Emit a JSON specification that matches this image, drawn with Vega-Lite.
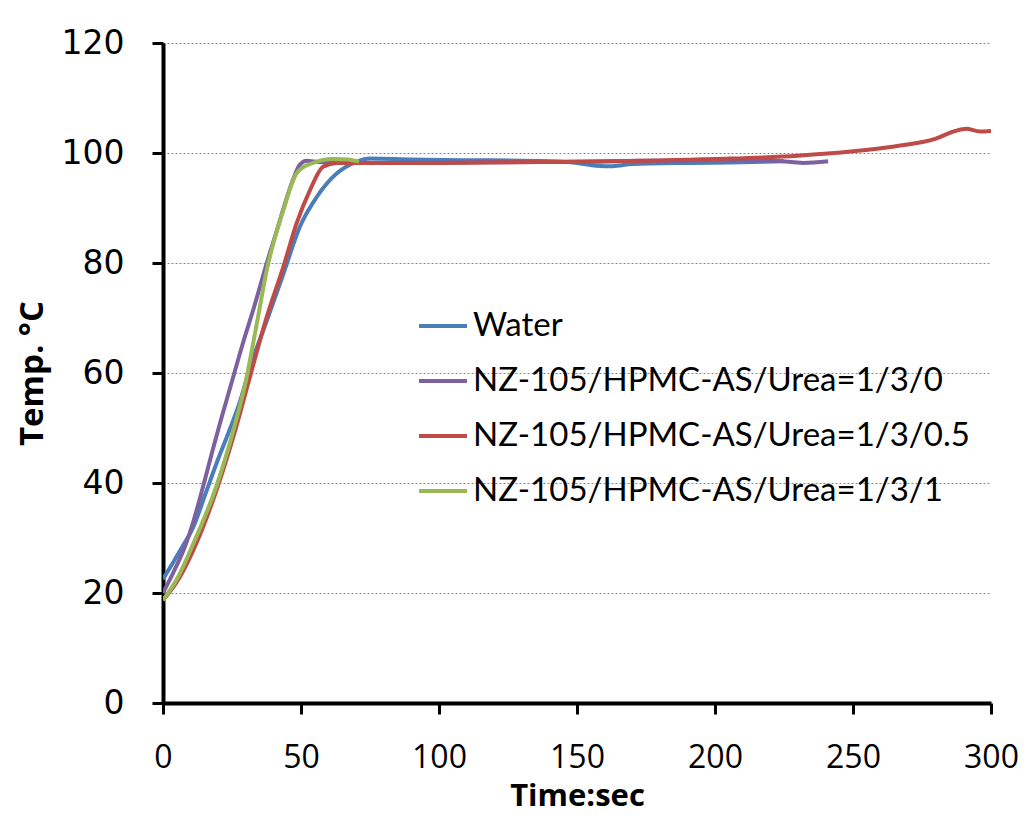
{
  "$schema": "https://vega.github.io/schema/vega-lite/v6.json",
  "autosize": "none",
  "width": 828,
  "height": 660,
  "padding": {"left": 163, "top": 43, "right": 37, "bottom": 115},
  "background": "white",
  "data": {"values": [
    {"s": "Water", "t": 0, "T": 22.5}, {"s": "Water", "t": 3, "T": 25}, {"s": "Water", "t": 7, "T": 28.4}, {"s": "Water", "t": 11, "T": 32}, {"s": "Water", "t": 15, "T": 37.5}, {"s": "Water", "t": 19.4, "T": 43.6}, {"s": "Water", "t": 24, "T": 49.5}, {"s": "Water", "t": 28, "T": 55}, {"s": "Water", "t": 31.5, "T": 61}, {"s": "Water", "t": 37.6, "T": 69.5}, {"s": "Water", "t": 43.6, "T": 78}, {"s": "Water", "t": 49.6, "T": 86.6}, {"s": "Water", "t": 55.7, "T": 92}, {"s": "Water", "t": 63, "T": 96.3}, {"s": "Water", "t": 70, "T": 98.4}, {"s": "Water", "t": 75, "T": 99}, {"s": "Water", "t": 90, "T": 98.8}, {"s": "Water", "t": 110, "T": 98.7}, {"s": "Water", "t": 140, "T": 98.5}, {"s": "Water", "t": 150, "T": 98.2}, {"s": "Water", "t": 157, "T": 97.7}, {"s": "Water", "t": 163, "T": 97.6}, {"s": "Water", "t": 170, "T": 98}, {"s": "Water", "t": 190, "T": 98.2}, {"s": "Water", "t": 210, "T": 98.3}, {"s": "Water", "t": 225, "T": 98.5},
    {"s": "NZ-105/HPMC-AS/Urea=1/3/0", "t": 0, "T": 20}, {"s": "NZ-105/HPMC-AS/Urea=1/3/0", "t": 4, "T": 24}, {"s": "NZ-105/HPMC-AS/Urea=1/3/0", "t": 8, "T": 28.5}, {"s": "NZ-105/HPMC-AS/Urea=1/3/0", "t": 11, "T": 33}, {"s": "NZ-105/HPMC-AS/Urea=1/3/0", "t": 14.6, "T": 39.5}, {"s": "NZ-105/HPMC-AS/Urea=1/3/0", "t": 18, "T": 46}, {"s": "NZ-105/HPMC-AS/Urea=1/3/0", "t": 21, "T": 51.5}, {"s": "NZ-105/HPMC-AS/Urea=1/3/0", "t": 25, "T": 58.5}, {"s": "NZ-105/HPMC-AS/Urea=1/3/0", "t": 29, "T": 65.5}, {"s": "NZ-105/HPMC-AS/Urea=1/3/0", "t": 33, "T": 72}, {"s": "NZ-105/HPMC-AS/Urea=1/3/0", "t": 37.6, "T": 80}, {"s": "NZ-105/HPMC-AS/Urea=1/3/0", "t": 41, "T": 85.5}, {"s": "NZ-105/HPMC-AS/Urea=1/3/0", "t": 44, "T": 90.5}, {"s": "NZ-105/HPMC-AS/Urea=1/3/0", "t": 47, "T": 95}, {"s": "NZ-105/HPMC-AS/Urea=1/3/0", "t": 49.5, "T": 97.8}, {"s": "NZ-105/HPMC-AS/Urea=1/3/0", "t": 52, "T": 98.6}, {"s": "NZ-105/HPMC-AS/Urea=1/3/0", "t": 57, "T": 98.3}, {"s": "NZ-105/HPMC-AS/Urea=1/3/0", "t": 80, "T": 98.2}, {"s": "NZ-105/HPMC-AS/Urea=1/3/0", "t": 120, "T": 98.3}, {"s": "NZ-105/HPMC-AS/Urea=1/3/0", "t": 160, "T": 98.5}, {"s": "NZ-105/HPMC-AS/Urea=1/3/0", "t": 200, "T": 98.7}, {"s": "NZ-105/HPMC-AS/Urea=1/3/0", "t": 222, "T": 98.6}, {"s": "NZ-105/HPMC-AS/Urea=1/3/0", "t": 232, "T": 98.2}, {"s": "NZ-105/HPMC-AS/Urea=1/3/0", "t": 241, "T": 98.5},
    {"s": "NZ-105/HPMC-AS/Urea=1/3/0.5", "t": 0, "T": 18.7}, {"s": "NZ-105/HPMC-AS/Urea=1/3/0.5", "t": 5, "T": 22}, {"s": "NZ-105/HPMC-AS/Urea=1/3/0.5", "t": 11, "T": 27.8}, {"s": "NZ-105/HPMC-AS/Urea=1/3/0.5", "t": 19.4, "T": 38.7}, {"s": "NZ-105/HPMC-AS/Urea=1/3/0.5", "t": 25.5, "T": 48.4}, {"s": "NZ-105/HPMC-AS/Urea=1/3/0.5", "t": 31.5, "T": 59.3}, {"s": "NZ-105/HPMC-AS/Urea=1/3/0.5", "t": 37.6, "T": 70.2}, {"s": "NZ-105/HPMC-AS/Urea=1/3/0.5", "t": 43.6, "T": 79.3}, {"s": "NZ-105/HPMC-AS/Urea=1/3/0.5", "t": 48.4, "T": 87.2}, {"s": "NZ-105/HPMC-AS/Urea=1/3/0.5", "t": 53.3, "T": 93.3}, {"s": "NZ-105/HPMC-AS/Urea=1/3/0.5", "t": 58, "T": 97.5}, {"s": "NZ-105/HPMC-AS/Urea=1/3/0.5", "t": 63, "T": 98.2}, {"s": "NZ-105/HPMC-AS/Urea=1/3/0.5", "t": 100, "T": 98.2}, {"s": "NZ-105/HPMC-AS/Urea=1/3/0.5", "t": 150, "T": 98.4}, {"s": "NZ-105/HPMC-AS/Urea=1/3/0.5", "t": 200, "T": 98.9}, {"s": "NZ-105/HPMC-AS/Urea=1/3/0.5", "t": 230, "T": 99.5}, {"s": "NZ-105/HPMC-AS/Urea=1/3/0.5", "t": 250, "T": 100.3}, {"s": "NZ-105/HPMC-AS/Urea=1/3/0.5", "t": 265, "T": 101.2}, {"s": "NZ-105/HPMC-AS/Urea=1/3/0.5", "t": 280, "T": 102.6}, {"s": "NZ-105/HPMC-AS/Urea=1/3/0.5", "t": 287, "T": 104}, {"s": "NZ-105/HPMC-AS/Urea=1/3/0.5", "t": 291, "T": 104.4}, {"s": "NZ-105/HPMC-AS/Urea=1/3/0.5", "t": 296, "T": 103.9}, {"s": "NZ-105/HPMC-AS/Urea=1/3/0.5", "t": 300, "T": 104},
    {"s": "NZ-105/HPMC-AS/Urea=1/3/1", "t": 0, "T": 18.7}, {"s": "NZ-105/HPMC-AS/Urea=1/3/1", "t": 5, "T": 22.5}, {"s": "NZ-105/HPMC-AS/Urea=1/3/1", "t": 11, "T": 29}, {"s": "NZ-105/HPMC-AS/Urea=1/3/1", "t": 19.4, "T": 39.5}, {"s": "NZ-105/HPMC-AS/Urea=1/3/1", "t": 25.5, "T": 49.6}, {"s": "NZ-105/HPMC-AS/Urea=1/3/1", "t": 30, "T": 58.5}, {"s": "NZ-105/HPMC-AS/Urea=1/3/1", "t": 34, "T": 69}, {"s": "NZ-105/HPMC-AS/Urea=1/3/1", "t": 37.6, "T": 78.7}, {"s": "NZ-105/HPMC-AS/Urea=1/3/1", "t": 43.6, "T": 89.6}, {"s": "NZ-105/HPMC-AS/Urea=1/3/1", "t": 48.4, "T": 96.3}, {"s": "NZ-105/HPMC-AS/Urea=1/3/1", "t": 53.3, "T": 98}, {"s": "NZ-105/HPMC-AS/Urea=1/3/1", "t": 61.7, "T": 98.9}, {"s": "NZ-105/HPMC-AS/Urea=1/3/1", "t": 67, "T": 98.8}, {"s": "NZ-105/HPMC-AS/Urea=1/3/1", "t": 71, "T": 98.4}
  ]},
  "mark": {"type": "line", "strokeWidth": 4, "interpolate": "monotone", "clip": true},
  "encoding": {
    "x": {"field": "t", "type": "quantitative",
      "scale": {"domain": [0, 300], "nice": false},
      "axis": {"title": "Time:sec", "values": [0, 50, 100, 150, 200, 250, 300], "grid": false, "labelFlush": false, "labelOverlap": false,
        "domainColor": "black", "domainWidth": 4, "tickColor": "black", "tickWidth": 3, "tickSize": 11,
        "labelFont": "Open Sans", "labelFontSize": 32, "labelColor": "black", "labelPadding": 28,
        "titleFont": "Open Sans", "titleFontSize": 31, "titleFontWeight": "bold", "titleColor": "black", "titlePadding": 8}},
    "y": {"field": "T", "type": "quantitative",
      "scale": {"domain": [0, 120], "nice": false},
      "axis": {"title": "Temp. °C", "values": [0, 20, 40, 60, 80, 100, 120], "grid": true,
        "gridColor": "#888888", "gridDash": [2, 2], "gridWidth": 1,
        "domainColor": "black", "domainWidth": 4, "tickColor": "black", "tickWidth": 3, "tickSize": 11,
        "labelFont": "DejaVu Sans", "labelFontSize": 33, "labelColor": "black", "labelPadding": 28,
        "titleFont": "Open Sans", "titleFontSize": 33, "titleFontWeight": "bold", "titleColor": "black", "titlePadding": 12}},
    "color": {"field": "s", "type": "nominal",
      "scale": {"domain": ["Water", "NZ-105/HPMC-AS/Urea=1/3/0", "NZ-105/HPMC-AS/Urea=1/3/0.5", "NZ-105/HPMC-AS/Urea=1/3/1"],
        "range": ["#4a7ebb", "#7d60a0", "#be4b48", "#98b954"]},
      "legend": {"title": null, "orient": "none", "legendX": 254, "legendY": 257,
        "symbolType": "stroke", "symbolStrokeWidth": 4, "symbolSize": 2300,
        "labelFont": "Lato", "labelFontSize": 33, "labelColor": "black", "labelOffset": 4,
        "rowPadding": 12, "labelLimit": 700}}
  },
  "config": {"view": {"stroke": null}}
}
